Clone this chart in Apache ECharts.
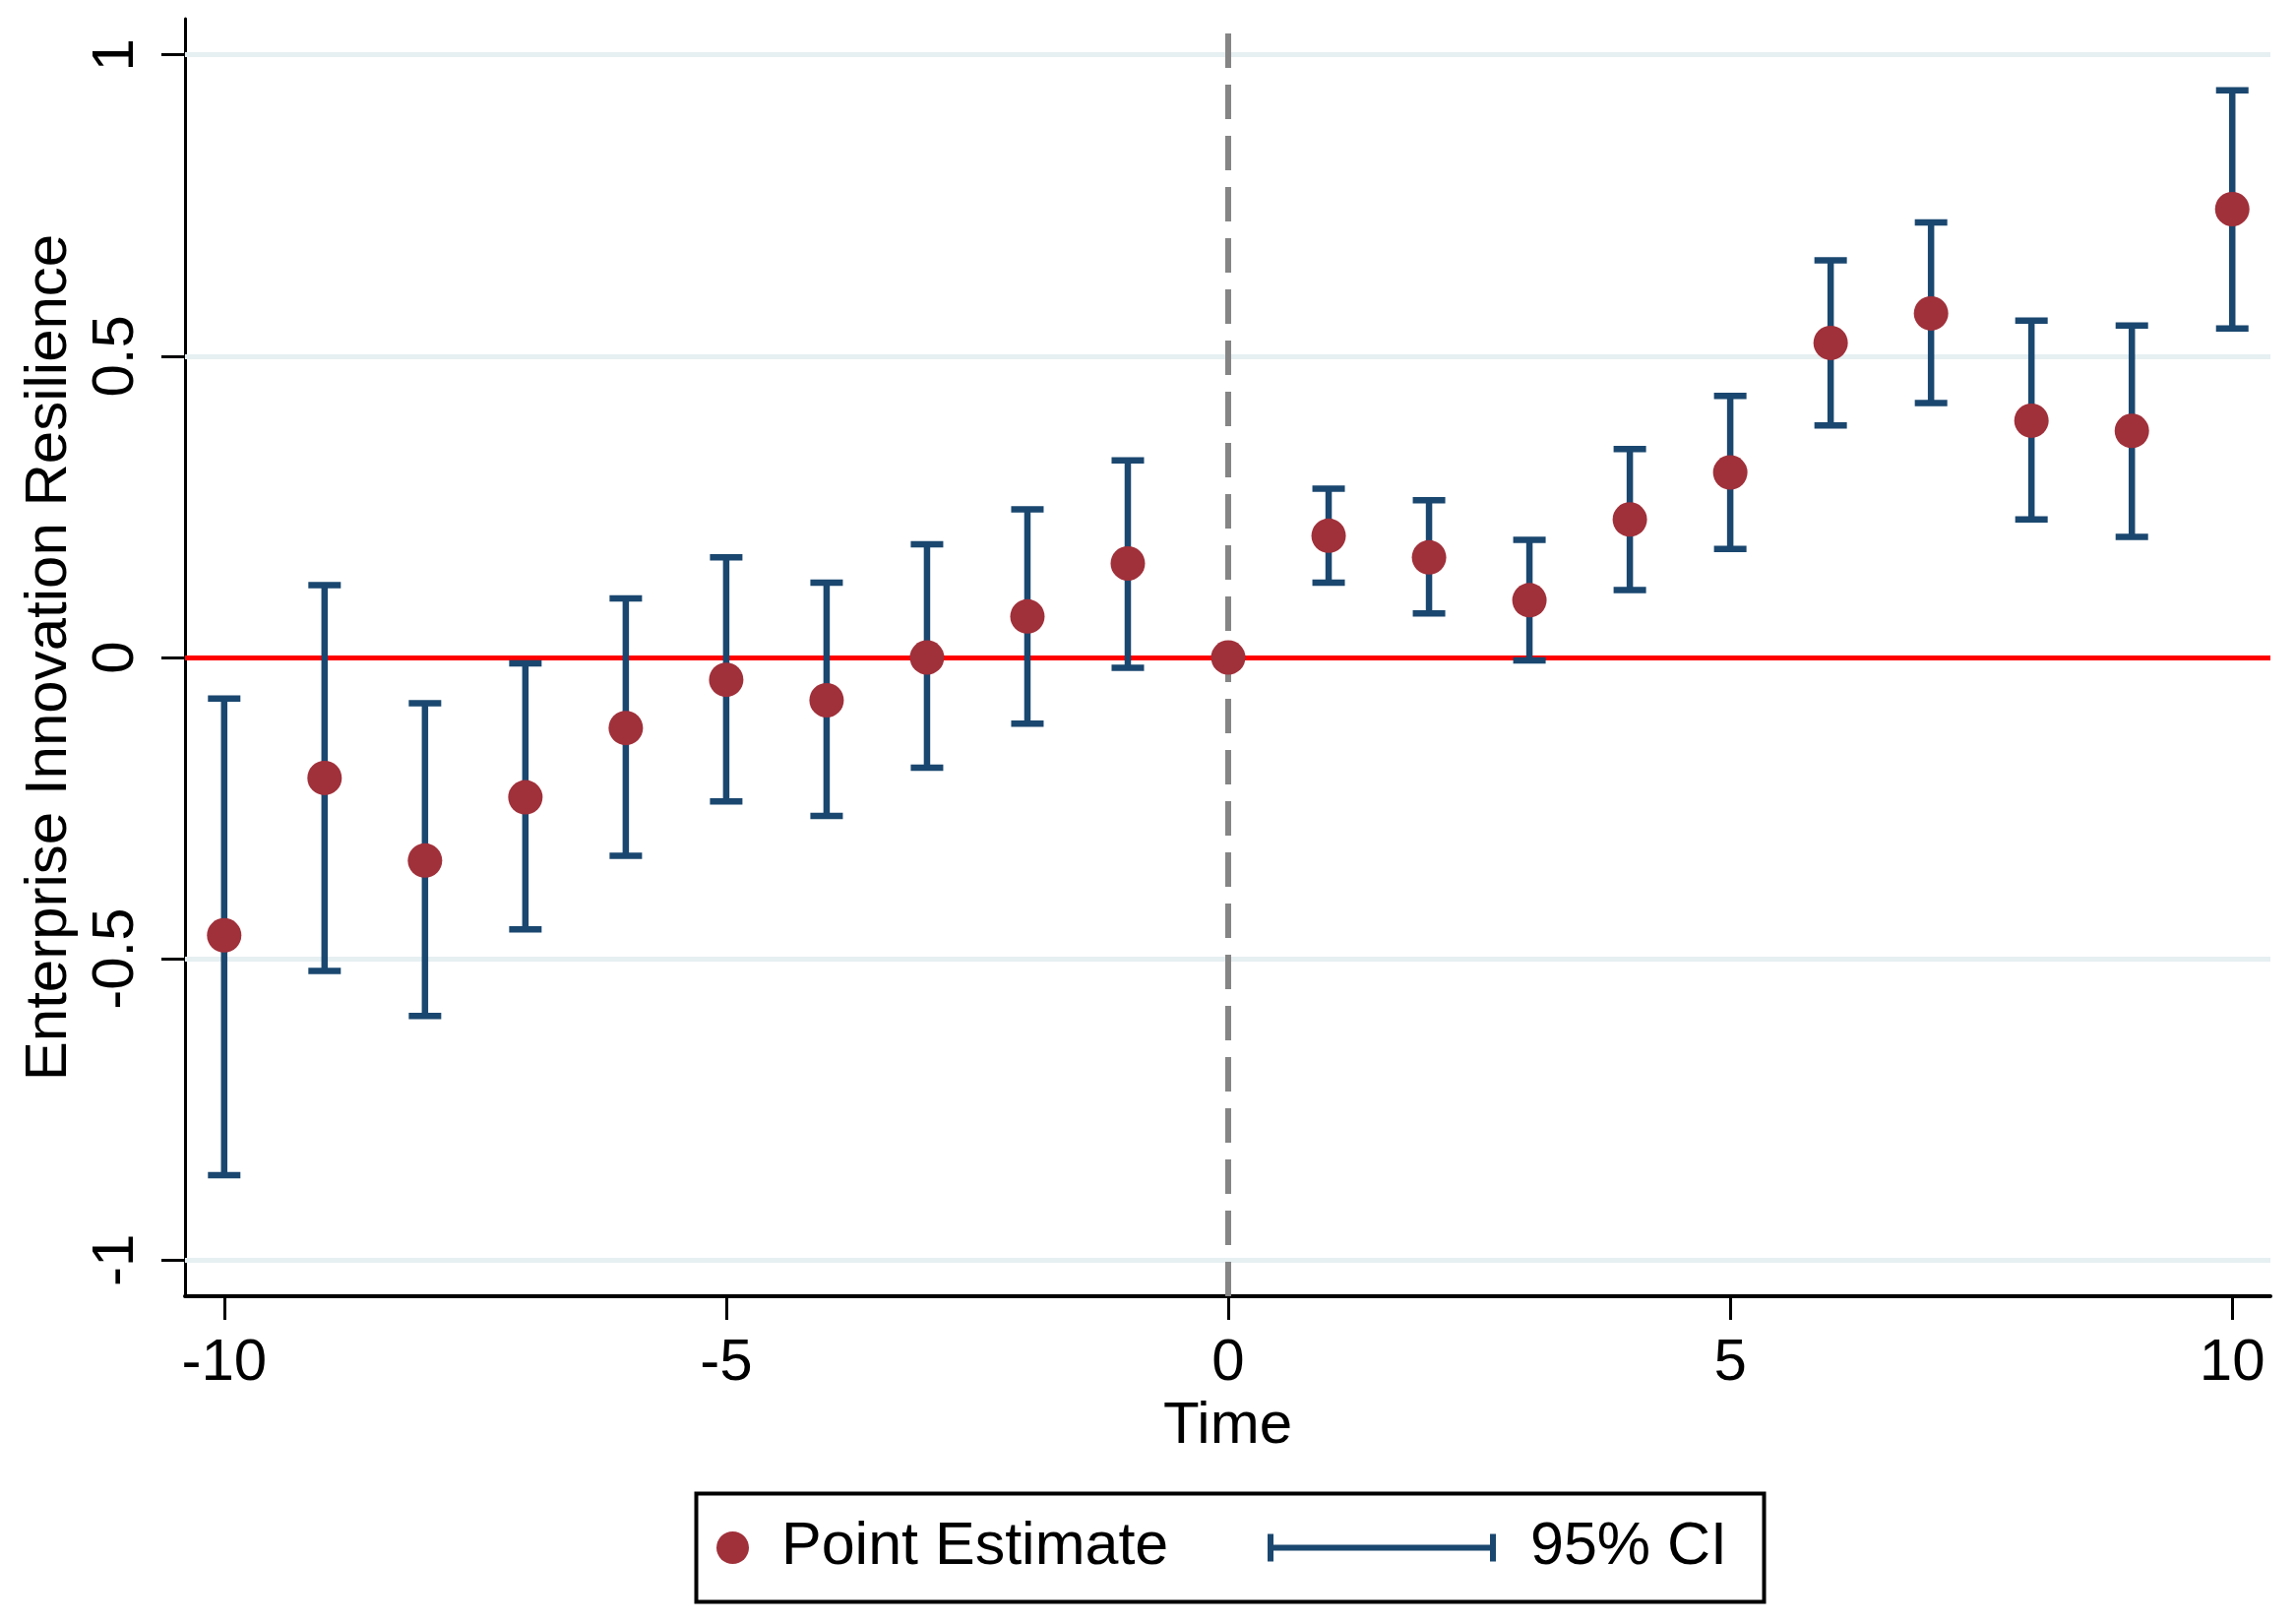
<!DOCTYPE html>
<html>
<head>
<meta charset="utf-8">
<script src="https://cdn.jsdelivr.net/npm/echarts@6/dist/echarts.min.js"></script>
<style>
  html, body { margin: 0; padding: 0; background: #ffffff; }
  #chart { width: 2333px; height: 1649px; }
</style>
</head>
<body>
<div id="chart"></div>
<script>
// ---- Data ----
const time = [-10, -9, -8, -7, -6, -5, -4, -3, -2, -1, 0, 1, 2, 3, 4, 5, 6, 7, 8, 9, 10];
const estimate = [-0.461, -0.200, -0.337, -0.232, -0.117, -0.037, -0.071, 0.000, 0.068, 0.156, 0.000,
                  0.202, 0.166, 0.095, 0.229, 0.307, 0.522, 0.571, 0.393, 0.376, 0.744];
const ciLow = [-0.859, -0.520, -0.595, -0.451, -0.329, -0.239, -0.263, -0.183, -0.110, -0.017, null,
               0.124, 0.073, -0.005, 0.112, 0.180, 0.385, 0.422, 0.229, 0.200, 0.546];
const ciHigh = [-0.068, 0.120, -0.076, -0.010, 0.098, 0.166, 0.124, 0.188, 0.246, 0.327, null,
                0.280, 0.261, 0.195, 0.346, 0.434, 0.659, 0.722, 0.559, 0.551, 0.941];
const xTicks = [-10, -5, 0, 5, 10];
const yTicks = [-1, -0.5, 0, 0.5, 1];
const yGridValues = [-1, -0.5, 0.5, 1];

const FONT = 'Liberation Sans, Arial, sans-serif';
const POINT_COLOR = '#a0303a';
const CI_COLOR = '#1a476f';

const scatterData = time.map((t, i) => [t, estimate[i]]);
const ciData = [];
time.forEach((t, i) => { if (ciLow[i] !== null) ciData.push([t, ciLow[i], ciHigh[i]]); });

const chart = echarts.init(document.getElementById('chart'), null, { renderer: 'canvas' });

const option = {
  backgroundColor: '#ffffff',
  animation: false,
  grid: { left: 188, right: 26, top: 19, bottom: 332, containLabel: false },
  xAxis: {
    type: 'value',
    min: -10.39,
    max: 10.38,
    name: 'Time',
    nameLocation: 'middle',
    nameGap: 100,
    nameTextStyle: { fontFamily: FONT, fontSize: 60, color: '#000' },
    axisLine: { onZero: false, lineStyle: { color: '#000', width: 4 } },
    axisTick: { show: true, inside: false, length: 24, lineStyle: { color: '#000', width: 3 }, customValues: xTicks },
    axisLabel: { fontFamily: FONT, fontSize: 60, color: '#000', margin: 38, customValues: xTicks },
    splitLine: { show: false }
  },
  yAxis: {
    type: 'value',
    min: -1.06,
    max: 1.06,
    name: 'Enterprise Innovation Resilience',
    nameLocation: 'middle',
    nameRotate: 90,
    nameGap: 104,
    nameTextStyle: { fontFamily: FONT, fontSize: 60, color: '#000' },
    axisLine: { onZero: false, lineStyle: { color: '#000', width: 3 } },
    axisTick: { show: true, inside: false, length: 24, lineStyle: { color: '#000', width: 3 }, customValues: yTicks },
    axisLabel: { fontFamily: FONT, fontSize: 60, color: '#000', margin: 40, rotate: 90, customValues: yTicks },
    splitLine: { show: false }
  },
  legend: [
    {
      data: [{ name: 'Point Estimate', icon: 'circle', itemStyle: { color: POINT_COLOR, borderWidth: 0 } }],
      left: 728, top: 1542, padding: 0,
      itemWidth: 33, itemHeight: 33,
      textStyle: { fontFamily: FONT, fontSize: 61, color: '#000', padding: [0, 0, 0, 28] },
      selectedMode: false
    },
    {
      data: [{ name: '95% CI',
               icon: 'path://M0,0H6V28H0Z M0,11H232V17H0Z M226,0H232V28H226Z',
               itemStyle: { color: CI_COLOR, borderWidth: 0 } }],
      left: 1288, top: 1542, padding: 0,
      itemWidth: 232, itemHeight: 28,
      textStyle: { fontFamily: FONT, fontSize: 61, color: '#000', padding: [0, 0, 0, 30] },
      selectedMode: false
    }
  ],
  graphic: [
    {
      type: 'rect', left: 705, top: 1515, z: 0, silent: true,
      shape: { width: 1085, height: 110 },
      style: { fill: 'none', stroke: '#000', lineWidth: 4 }
    }
  ],
  series: [
    {
      name: '95% CI',
      type: 'custom',
      z: 3,
      itemStyle: { color: CI_COLOR },
      encode: { x: 0, y: [1, 2] },
      data: ciData,
      renderItem: function (params, api) {
        const x = api.value(0);
        const pLo = api.coord([x, api.value(1)]);
        const pHi = api.coord([x, api.value(2)]);
        const hw = 16.5;
        const style = { stroke: CI_COLOR, lineWidth: 6.5, fill: null };
        return {
          type: 'group',
          children: [
            { type: 'line', shape: { x1: pLo[0], y1: pLo[1], x2: pHi[0], y2: pHi[1] }, style: style },
            { type: 'line', shape: { x1: pLo[0] - hw, y1: pLo[1], x2: pLo[0] + hw, y2: pLo[1] }, style: style },
            { type: 'line', shape: { x1: pHi[0] - hw, y1: pHi[1], x2: pHi[0] + hw, y2: pHi[1] }, style: style }
          ]
        };
      },
      markLine: {
        z: 1,
        silent: true,
        symbol: 'none',
        label: { show: false },
        lineStyle: { color: '#e6eff1', width: 5, type: 'solid' },
        data: yGridValues.map(v => ({ yAxis: v }))
      }
    },
    {
      name: 'Point Estimate',
      type: 'scatter',
      z: 4,
      symbol: 'circle',
      symbolSize: 35,
      itemStyle: { color: POINT_COLOR, opacity: 1 },
      data: scatterData,
      markLine: {
        z: 2,
        silent: true,
        symbol: 'none',
        label: { show: false },
        data: [
          { yAxis: 0, lineStyle: { color: '#ff0000', width: 5, type: 'solid' } },
          { xAxis: 0, lineStyle: { color: '#858585', width: 6, type: [35, 17] } }
        ]
      }
    }
  ]
};

chart.setOption(option);
</script>
</body>
</html>
